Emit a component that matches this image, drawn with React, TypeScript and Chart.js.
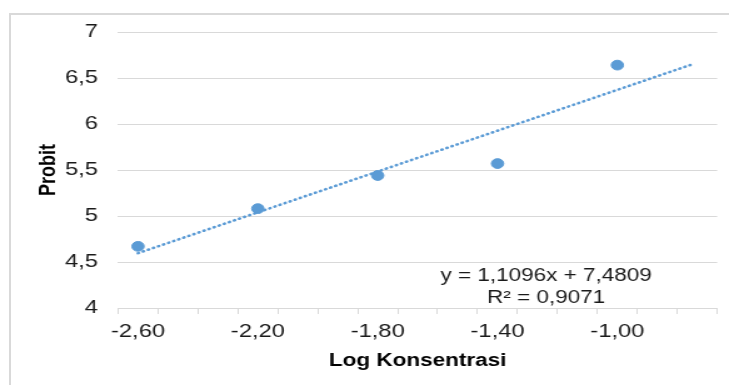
import React, { useEffect, useRef } from "react";
import { Chart, registerables } from "chart.js";

Chart.register(...registerables);

// ---- data ----
const X_VALUES = [-2.6, -2.2, -1.8, -1.4, -1.0];
const Y_VALUES = [4.67, 5.08, 5.44, 5.57, 6.64];
const X_TICK_LABELS = [-2.6, -2.2, -1.8, -1.4, -1.0];
const TREND_X = [-2.6, -0.75];
const SLOPE = 1.1096;
const INTERCEPT = 7.4809;
const R2 = 0.9071;
const X_MIN = -8 / 3;
const X_MAX = -2 / 3;
const Y_MIN = 4;
const Y_MAX = 7;
const Y_STEP = 0.5;

const FONT = "'Liberation Sans', Arial, Helvetica, sans-serif";
const BLUE = "#5b9bd5";
const GRID = "#d9d9d9";
const STRETCH = 1.2504;
const CW = 583;
const CH = 385;

const fmt = (v: number, d: number) => v.toFixed(d).replace(".", ",");

const equationPlugin = {
  id: "equation",
  afterDatasetsDraw(chart: any) {
    const { ctx, chartArea } = chart;
    const w = chartArea.right - chartArea.left;
    const h = chartArea.bottom - chartArea.top;
    const cx = chartArea.left + 0.7145 * w;
    ctx.save();
    ctx.font = `18px ${FONT}`;
    ctx.fillStyle = "#1a1a1a";
    ctx.textAlign = "center";
    ctx.textBaseline = "middle";
    ctx.fillText(`y = ${fmt(SLOPE, 4)}x + ${fmt(INTERCEPT, 4)}`, cx, chartArea.top + 0.884 * h);
    ctx.fillText(`R² = ${fmt(R2, 4)}`, cx, chartArea.top + 0.964 * h);
    ctx.restore();
  },
};

export default function App() {
  const ref = useRef<HTMLCanvasElement | null>(null);

  useEffect(() => {
    if (!ref.current) return;
    const points = X_VALUES.map((x, i) => ({ x, y: Y_VALUES[i] }));
    const trend = TREND_X.map((x) => ({ x, y: SLOPE * x + INTERCEPT }));
    const chart = new Chart(ref.current, {
      type: "scatter",
      data: {
        datasets: [
          {
            label: "Trend",
            data: trend,
            showLine: true,
            borderColor: BLUE,
            borderWidth: 2.6,
            borderDash: [0.5, 3.9],
            borderCapStyle: "round",
            pointRadius: 0,
            fill: false,
          },
          {
            label: "Probit",
            data: points,
            backgroundColor: BLUE,
            borderColor: BLUE,
            pointRadius: 4.9,
            pointHoverRadius: 4.9,
          },
        ],
      },
      plugins: [equationPlugin],
      options: {
        responsive: false,
        animation: false,
        layout: { padding: { top: 32, left: 0, right: 9.4, bottom: 0 } },
        plugins: { legend: { display: false }, tooltip: { enabled: false } },
        scales: {
          x: {
            type: "linear",
            min: X_MIN,
            max: X_MAX,
            afterBuildTicks: (scale: any) => {
              const t = [];
              for (let k = 0; k <= 30; k++) t.push({ value: X_MIN + (k * (X_MAX - X_MIN)) / 30 });
              scale.ticks = t;
            },
            afterFit: (scale: any) => {
              scale.height = 77;
            },
            grid: {
              drawOnChartArea: false,
              drawTicks: true,
              tickLength: 6,
              color: (ctx: any) => (ctx.index % 2 === 0 ? GRID : "rgba(0,0,0,0)"),
              lineWidth: 1,
            },
            border: { display: true, color: GRID, width: 1 },
            ticks: {
              autoSkip: false,
              maxRotation: 0,
              minRotation: 0,
              padding: 6,
              color: "#1a1a1a",
              font: { family: FONT, size: 19 },
              callback: (value: any) => {
                const m = X_TICK_LABELS.find((v) => Math.abs(v - Number(value)) < 1e-6);
                return m === undefined ? "" : fmt(m, 2);
              },
            },
            title: {
              display: true,
              text: "Log Konsentrasi",
              color: "#000",
              font: { family: FONT, size: 18, weight: "bold" },
              padding: { top: 0, bottom: 13 },
            },
          },
          y: {
            type: "linear",
            min: Y_MIN,
            max: Y_MAX,
            afterFit: (scale: any) => {
              scale.width = 94.4;
            },
            grid: { color: GRID, lineWidth: 1, drawTicks: false },
            border: { display: false },
            ticks: {
              stepSize: Y_STEP,
              padding: 16,
              color: "#1a1a1a",
              font: { family: FONT, size: 19 },
              callback: (value: any) => String(value).replace(".", ","),
            },
            title: {
              display: true,
              text: "Probit",
              color: "#000",
              font: { family: FONT, size: 18, weight: "bold" },
              padding: { top: 28, bottom: 0 },
            },
          },
        },
      },
    });
    return () => chart.destroy();
  }, []);

  return (
    <>
      <div
        style={{
          position: "absolute",
          left: 9,
          top: 13,
          width: 720,
          height: 372,
          boxSizing: "border-box",
          borderLeft: `2px solid ${GRID}`,
          borderTop: `2px solid ${GRID}`,
        }}
      />
      <div
        style={{
          position: "absolute",
          left: 0,
          top: 0,
          width: CW,
          height: CH,
          transform: `scaleX(${STRETCH})`,
          transformOrigin: "0 0",
        }}
      >
        <canvas ref={ref} width={CW} height={CH} style={{ width: CW, height: CH, display: "block" }} />
      </div>
    </>
  );
}
